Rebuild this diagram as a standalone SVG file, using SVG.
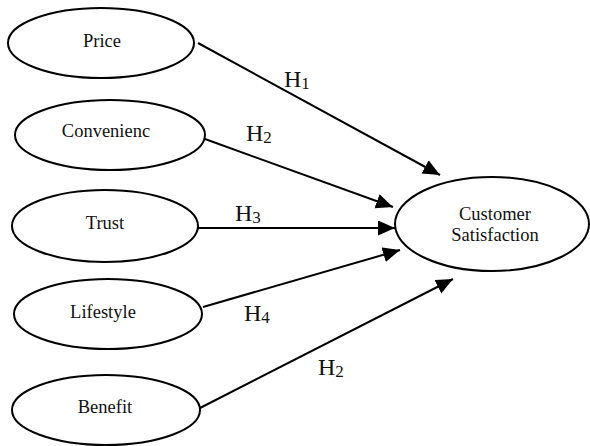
<svg xmlns="http://www.w3.org/2000/svg" width="590" height="446" viewBox="0 0 590 446">
<defs>
<style>
.n ellipse{fill:#fff;stroke:#000;stroke-width:2}
.n text{font-family:"Liberation Serif","DejaVu Serif",serif;font-size:18.5px;fill:#111;text-anchor:middle}
.c line{stroke:#000;stroke-width:2;marker-end:url(#ah)}
.h{font-family:"Liberation Serif","DejaVu Serif",serif;font-size:24px;fill:#111}
.h tspan{font-size:17px}
</style>
<marker id="ah" markerWidth="18" markerHeight="16" refX="17" refY="7.5" orient="auto" markerUnits="userSpaceOnUse" viewBox="0 0 18 16">
<path d="M0,0 L17,7.5 L0,15 z" fill="#000"/>
</marker>
</defs>
<rect width="590" height="446" fill="#fff"/>
<g class="c">
<line x1="198" y1="43" x2="440" y2="175"/>
<line x1="205" y1="139" x2="393" y2="207"/>
<line x1="197" y1="228" x2="395" y2="228"/>
<line x1="203" y1="307" x2="400" y2="250"/>
<line x1="200" y1="408" x2="453" y2="279"/>
</g>
<g id="price" class="n"><ellipse cx="101" cy="43" rx="93" ry="35"/><text x="102" y="47">Price</text></g>
<g id="convenience" class="n"><ellipse cx="110" cy="135" rx="95" ry="35"/><text x="106" y="137">Convenienc</text></g>
<g id="trust" class="n"><ellipse cx="105" cy="226" rx="93" ry="36"/><text x="105" y="229">Trust</text></g>
<g id="lifestyle" class="n"><ellipse cx="108" cy="314" rx="94" ry="35"/><text x="103" y="318">Lifestyle</text></g>
<g id="benefit" class="n"><ellipse cx="106" cy="410" rx="94" ry="35"/><text x="105" y="413">Benefit</text></g>
<g id="satisfaction" class="n"><ellipse cx="492" cy="224" rx="97" ry="47"/><text x="495" y="220">Customer</text><text x="495" y="241">Satisfaction</text></g>
<g id="labels">
<text class="h" x="284" y="87">H<tspan dy="2">1</tspan></text>
<text class="h" x="246" y="141">H<tspan dy="2">2</tspan></text>
<text class="h" x="235" y="221">H<tspan dy="2">3</tspan></text>
<text class="h" x="244" y="321">H<tspan dy="2">4</tspan></text>
<text class="h" x="318" y="375">H<tspan dy="2">2</tspan></text>
</g>
</svg>
